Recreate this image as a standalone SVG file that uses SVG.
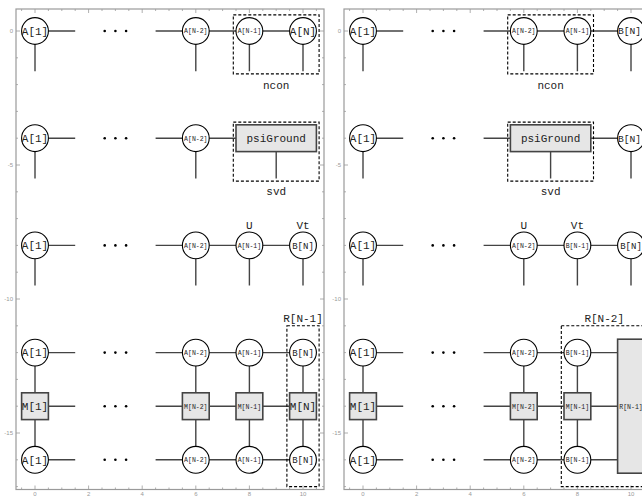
<svg xmlns="http://www.w3.org/2000/svg" width="642" height="497" viewBox="0 0 642 497">
<style>
.e{stroke:#444;stroke-width:1.4;fill:none}
.c{fill:#fff;stroke:#000;stroke-width:1.1}
.m{fill:#e6e6e6;stroke:#444;stroke-width:1.6}
.d{fill:none;stroke:#000;stroke-width:1.1;stroke-dasharray:3 2}
.t{font-family:"Liberation Mono",monospace;text-anchor:middle;fill:#222}
.s11{font-size:11px}
.s10{font-size:9.6px}
.s9{font-size:9px}
.s6{font-size:6.5px}
.ax{stroke:#9a9a9a;stroke-width:1.2;fill:none}
.tk{stroke:#9a9a9a;stroke-width:0.8;fill:none}
.tl{font-family:"Liberation Sans",sans-serif;font-size:6px;fill:#999}
</style>
<defs>
<circle id="dot" r="1.3" fill="#000"/>
</defs>
<g id="frames">
<rect class="ax" x="16" y="9" width="308" height="480.5"/>
<rect class="ax" x="344" y="9" width="308" height="480.5"/>
<path class="tk" d="M21.6 9v2M35 9v4M48.4 9v2M61.8 9v2M75.2 9v2M88.6 9v4M102 9v2M115.4 9v2M128.8 9v2M142.2 9v4M155.6 9v2M169 9v2M182.4 9v2M195.8 9v4M209.2 9v2M222.6 9v2M236 9v2M249.4 9v4M262.8 9v2M276.2 9v2M289.6 9v2M303 9v4M316.4 9v2
M21.6 489.5v-2M35 489.5v-4M48.4 489.5v-2M61.8 489.5v-2M75.2 489.5v-2M88.6 489.5v-4M102 489.5v-2M115.4 489.5v-2M128.8 489.5v-2M142.2 489.5v-4M155.6 489.5v-2M169 489.5v-2M182.4 489.5v-2M195.8 489.5v-4M209.2 489.5v-2M222.6 489.5v-2M236 489.5v-2M249.4 489.5v-4M262.8 489.5v-2M276.2 489.5v-2M289.6 489.5v-2M303 489.5v-4M316.4 489.5v-2
M16 31h4M16 57.8h2M16 84.6h2M16 111.4h2M16 138.2h2M16 165h4M16 191.8h2M16 218.6h2M16 245.4h2M16 272.2h2M16 299h4M16 325.8h2M16 352.6h2M16 379.4h2M16 406.2h2M16 433h4M16 459.8h2M16 486.6h2
M324 31h-4M324 57.8h-2M324 84.6h-2M324 111.4h-2M324 138.2h-2M324 165h-4M324 191.8h-2M324 218.6h-2M324 245.4h-2M324 272.2h-2M324 299h-4M324 325.8h-2M324 352.6h-2M324 379.4h-2M324 406.2h-2M324 433h-4M324 459.8h-2M324 486.6h-2"/>
<path class="tk" d="M349.6 9v2M363 9v4M376.4 9v2M389.8 9v2M403.2 9v2M416.6 9v4M430 9v2M443.4 9v2M456.8 9v2M470.2 9v4M483.6 9v2M497 9v2M510.4 9v2M523.8 9v4M537.2 9v2M550.6 9v2M564 9v2M577.4 9v4M590.8 9v2M604.2 9v2M617.6 9v2M631 9v4M644.4 9v2
M349.6 489.5v-2M363 489.5v-4M376.4 489.5v-2M389.8 489.5v-2M403.2 489.5v-2M416.6 489.5v-4M430 489.5v-2M443.4 489.5v-2M456.8 489.5v-2M470.2 489.5v-4M483.6 489.5v-2M497 489.5v-2M510.4 489.5v-2M523.8 489.5v-4M537.2 489.5v-2M550.6 489.5v-2M564 489.5v-2M577.4 489.5v-4M590.8 489.5v-2M604.2 489.5v-2M617.6 489.5v-2M631 489.5v-4
M344 31h4M344 57.8h2M344 84.6h2M344 111.4h2M344 138.2h2M344 165h4M344 191.8h2M344 218.6h2M344 245.4h2M344 272.2h2M344 299h4M344 325.8h2M344 352.6h2M344 379.4h2M344 406.2h2M344 433h4M344 459.8h2M344 486.6h2"/>
<g class="tl" text-anchor="middle">
<text x="35" y="496">0</text><text x="88.6" y="496">2</text><text x="142.2" y="496">4</text><text x="195.8" y="496">6</text><text x="249.4" y="496">8</text><text x="303" y="496">10</text>
<text x="363" y="496">0</text><text x="416.6" y="496">2</text><text x="470.2" y="496">4</text><text x="523.8" y="496">6</text><text x="577.4" y="496">8</text><text x="631" y="496">10</text>
</g>
<g class="tl" text-anchor="end">
<text x="13" y="33">0</text><text x="13" y="167">-5</text><text x="13" y="301">-10</text><text x="13" y="435">-15</text>
<text x="341" y="33">0</text><text x="341" y="167">-5</text><text x="341" y="301">-10</text><text x="341" y="435">-15</text>
</g>
</g>
<g id="connectors">
<path class="e" d="M35 31H75.2M155.6 31H303M35 31V71.2M195.8 31V71.2M249.4 31V71.2M303 31V71.2
M35 138.2H75.2M155.6 138.2H276.2M35 138.2V178.4M195.8 138.2V178.4M276.2 151.6V178.4
M35 245.4H75.2M155.6 245.4H303M35 245.4V285.6M195.8 245.4V285.6M249.4 245.4V285.6M303 245.4V285.6
M35 352.6H75.2M155.6 352.6H303M35 406.2H75.2M155.6 406.2H303M35 459.8H75.2M155.6 459.8H303
M35 352.6V459.8M195.8 352.6V459.8M249.4 352.6V459.8M303 352.6V459.8"/>
<path class="e" d="M363 31H403.2M483.6 31H631M363 31V71.2M523.8 31V71.2M577.4 31V71.2M631 31V71.2
M363 138.2H403.2M483.6 138.2H631M363 138.2V178.4M631 138.2V178.4M550.6 151.6V178.4
M363 245.4H403.2M483.6 245.4H631M363 245.4V285.6M523.8 245.4V285.6M577.4 245.4V285.6M631 245.4V285.6
M363 352.6H403.2M483.6 352.6H617.6M363 406.2H403.2M483.6 406.2H617.6M363 459.8H403.2M483.6 459.8H617.6
M363 352.6V459.8M523.8 352.6V459.8M577.4 352.6V459.8"/>
</g>
<g id="ellipses">
<use href="#dot" x="104.7" y="31"/><use href="#dot" x="115.4" y="31"/><use href="#dot" x="126.1" y="31"/>
<use href="#dot" x="104.7" y="138.2"/><use href="#dot" x="115.4" y="138.2"/><use href="#dot" x="126.1" y="138.2"/>
<use href="#dot" x="104.7" y="245.4"/><use href="#dot" x="115.4" y="245.4"/><use href="#dot" x="126.1" y="245.4"/>
<use href="#dot" x="104.7" y="352.6"/><use href="#dot" x="115.4" y="352.6"/><use href="#dot" x="126.1" y="352.6"/>
<use href="#dot" x="104.7" y="406.2"/><use href="#dot" x="115.4" y="406.2"/><use href="#dot" x="126.1" y="406.2"/>
<use href="#dot" x="104.7" y="459.8"/><use href="#dot" x="115.4" y="459.8"/><use href="#dot" x="126.1" y="459.8"/>
<use href="#dot" x="432.7" y="31"/><use href="#dot" x="443.4" y="31"/><use href="#dot" x="454.1" y="31"/>
<use href="#dot" x="432.7" y="138.2"/><use href="#dot" x="443.4" y="138.2"/><use href="#dot" x="454.1" y="138.2"/>
<use href="#dot" x="432.7" y="245.4"/><use href="#dot" x="443.4" y="245.4"/><use href="#dot" x="454.1" y="245.4"/>
<use href="#dot" x="432.7" y="352.6"/><use href="#dot" x="443.4" y="352.6"/><use href="#dot" x="454.1" y="352.6"/>
<use href="#dot" x="432.7" y="406.2"/><use href="#dot" x="443.4" y="406.2"/><use href="#dot" x="454.1" y="406.2"/>
<use href="#dot" x="432.7" y="459.8"/><use href="#dot" x="443.4" y="459.8"/><use href="#dot" x="454.1" y="459.8"/>
</g>
<!-- Left panel -->
<g id="L-ncon"><rect class="d" x="233.3" y="14.9" width="85.8" height="59"/><text class="t s11" x="276.2" y="89">ncon</text></g>
<g id="L1-A1"><circle class="c" cx="35" cy="31" r="13.4"/><text class="t s11" x="35" y="34.8">A[1]</text></g>
<g id="L1-AN2"><circle class="c" cx="195.8" cy="31" r="13.4"/><text class="t s6" x="195.8" y="33.3">A[N-2]</text></g>
<g id="L1-AN1"><circle class="c" cx="249.4" cy="31" r="13.4"/><text class="t s6" x="249.4" y="33.3">A[N-1]</text></g>
<g id="L1-AN"><circle class="c" cx="303" cy="31" r="13.4"/><text class="t s11" x="303" y="34.8">A[N]</text></g>

<g id="L-svd"><rect class="d" x="233.3" y="122.1" width="85.8" height="59"/><text class="t s11" x="276.2" y="195">svd</text></g>
<g id="L2-A1"><circle class="c" cx="35" cy="138.2" r="13.4"/><text class="t s11" x="35" y="142">A[1]</text></g>
<g id="L2-AN2"><circle class="c" cx="195.8" cy="138.2" r="13.4"/><text class="t s6" x="195.8" y="140.5">A[N-2]</text></g>
<g id="L2-psi"><rect class="m" x="236" y="124.8" width="80.4" height="26.8"/><text class="t s11" x="276.2" y="142">psiGround</text></g>

<g id="L3-A1"><circle class="c" cx="35" cy="245.4" r="13.4"/><text class="t s11" x="35" y="249.2">A[1]</text></g>
<g id="L3-AN2"><circle class="c" cx="195.8" cy="245.4" r="13.4"/><text class="t s6" x="195.8" y="247.7">A[N-2]</text></g>
<g id="L3-AN1"><circle class="c" cx="249.4" cy="245.4" r="13.4"/><text class="t s6" x="249.4" y="247.7">A[N-1]</text><text class="t s11" x="249.4" y="229">U</text></g>
<g id="L3-BN"><circle class="c" cx="303" cy="245.4" r="13.4"/><text class="t s9" x="303" y="248.5">B[N]</text><text class="t s11" x="303" y="229">Vt</text></g>

<g id="L-R"><rect class="d" x="286.9" y="325.8" width="32.2" height="160.8"/><text class="t s11" x="303" y="322">R[N-1]</text></g>
<g id="L4-A1"><circle class="c" cx="35" cy="352.6" r="13.4"/><text class="t s11" x="35" y="356.4">A[1]</text></g>
<g id="L4-M1"><rect class="m" x="21.6" y="392.8" width="26.8" height="26.8"/><text class="t s11" x="35" y="410">M[1]</text></g>
<g id="L4-A1b"><circle class="c" cx="35" cy="459.8" r="13.4"/><text class="t s11" x="35" y="463.6">A[1]</text></g>
<g id="L4-AN2"><circle class="c" cx="195.8" cy="352.6" r="13.4"/><text class="t s6" x="195.8" y="354.9">A[N-2]</text></g>
<g id="L4-MN2"><rect class="m" x="182.4" y="392.8" width="26.8" height="26.8"/><text class="t s6" x="195.8" y="408.5">M[N-2]</text></g>
<g id="L4-AN2b"><circle class="c" cx="195.8" cy="459.8" r="13.4"/><text class="t s6" x="195.8" y="462.1">A[N-2]</text></g>
<g id="L4-AN1"><circle class="c" cx="249.4" cy="352.6" r="13.4"/><text class="t s6" x="249.4" y="354.9">A[N-1]</text></g>
<g id="L4-MN1"><rect class="m" x="236" y="392.8" width="26.8" height="26.8"/><text class="t s6" x="249.4" y="408.5">M[N-1]</text></g>
<g id="L4-AN1b"><circle class="c" cx="249.4" cy="459.8" r="13.4"/><text class="t s6" x="249.4" y="462.1">A[N-1]</text></g>
<g id="L4-BN"><circle class="c" cx="303" cy="352.6" r="13.4"/><text class="t s9" x="303" y="355.7">B[N]</text></g>
<g id="L4-MN"><rect class="m" x="289.6" y="392.8" width="26.8" height="26.8"/><text class="t s11" x="303" y="410">M[N]</text></g>
<g id="L4-BNb"><circle class="c" cx="303" cy="459.8" r="13.4"/><text class="t s9" x="303" y="462.9">B[N]</text></g>

<!-- Right panel -->
<g id="R-ncon"><rect class="d" x="507.7" y="14.9" width="85.8" height="59"/><text class="t s11" x="550.6" y="89">ncon</text></g>
<g id="R1-A1"><circle class="c" cx="363" cy="31" r="13.4"/><text class="t s11" x="363" y="34.8">A[1]</text></g>
<g id="R1-AN2"><circle class="c" cx="523.8" cy="31" r="13.4"/><text class="t s6" x="523.8" y="33.3">A[N-2]</text></g>
<g id="R1-AN1"><circle class="c" cx="577.4" cy="31" r="13.4"/><text class="t s6" x="577.4" y="33.3">A[N-1]</text></g>
<g id="R1-BN"><circle class="c" cx="631" cy="31" r="13.4"/><text class="t s10" x="629.5" y="34.4">B[N]</text></g>

<g id="R-svd"><rect class="d" x="507.7" y="122.1" width="85.8" height="59"/><text class="t s11" x="550.6" y="195">svd</text></g>
<g id="R2-A1"><circle class="c" cx="363" cy="138.2" r="13.4"/><text class="t s11" x="363" y="142">A[1]</text></g>
<g id="R2-psi"><rect class="m" x="510.4" y="124.8" width="80.4" height="26.8"/><text class="t s11" x="550.6" y="142">psiGround</text></g>
<g id="R2-BN"><circle class="c" cx="631" cy="138.2" r="13.4"/><text class="t s10" x="629.5" y="141.6">B[N]</text></g>

<g id="R3-A1"><circle class="c" cx="363" cy="245.4" r="13.4"/><text class="t s11" x="363" y="249.2">A[1]</text></g>
<g id="R3-AN2"><circle class="c" cx="523.8" cy="245.4" r="13.4"/><text class="t s6" x="523.8" y="247.7">A[N-2]</text><text class="t s11" x="523.8" y="229">U</text></g>
<g id="R3-BN1"><circle class="c" cx="577.4" cy="245.4" r="13.4"/><text class="t s6" x="577.4" y="247.7">B[N-1]</text><text class="t s11" x="577.4" y="229">Vt</text></g>
<g id="R3-BN"><circle class="c" cx="631" cy="245.4" r="13.4"/><text class="t s9" x="631" y="248.5">B[N]</text></g>

<g id="R-R"><rect class="d" x="561.3" y="325.8" width="85.8" height="160.8"/><text class="t s11" x="604.2" y="322">R[N-2]</text></g>
<g id="R4-A1"><circle class="c" cx="363" cy="352.6" r="13.4"/><text class="t s11" x="363" y="356.4">A[1]</text></g>
<g id="R4-M1"><rect class="m" x="349.6" y="392.8" width="26.8" height="26.8"/><text class="t s11" x="363" y="410">M[1]</text></g>
<g id="R4-A1b"><circle class="c" cx="363" cy="459.8" r="13.4"/><text class="t s11" x="363" y="463.6">A[1]</text></g>
<g id="R4-AN2"><circle class="c" cx="523.8" cy="352.6" r="13.4"/><text class="t s6" x="523.8" y="354.9">A[N-2]</text></g>
<g id="R4-MN2"><rect class="m" x="510.4" y="392.8" width="26.8" height="26.8"/><text class="t s6" x="523.8" y="408.5">M[N-2]</text></g>
<g id="R4-AN2b"><circle class="c" cx="523.8" cy="459.8" r="13.4"/><text class="t s6" x="523.8" y="462.1">A[N-2]</text></g>
<g id="R4-BN1"><circle class="c" cx="577.4" cy="352.6" r="13.4"/><text class="t s6" x="577.4" y="354.9">B[N-1]</text></g>
<g id="R4-MN1"><rect class="m" x="564" y="392.8" width="26.8" height="26.8"/><text class="t s6" x="577.4" y="408.5">M[N-1]</text></g>
<g id="R4-BN1b"><circle class="c" cx="577.4" cy="459.8" r="13.4"/><text class="t s6" x="577.4" y="462.1">B[N-1]</text></g>
<g id="R4-RN1"><rect class="m" x="617.6" y="339.2" width="26.8" height="134"/><text class="t s6" x="631" y="408.5">R[N-1]</text></g>
</svg>
